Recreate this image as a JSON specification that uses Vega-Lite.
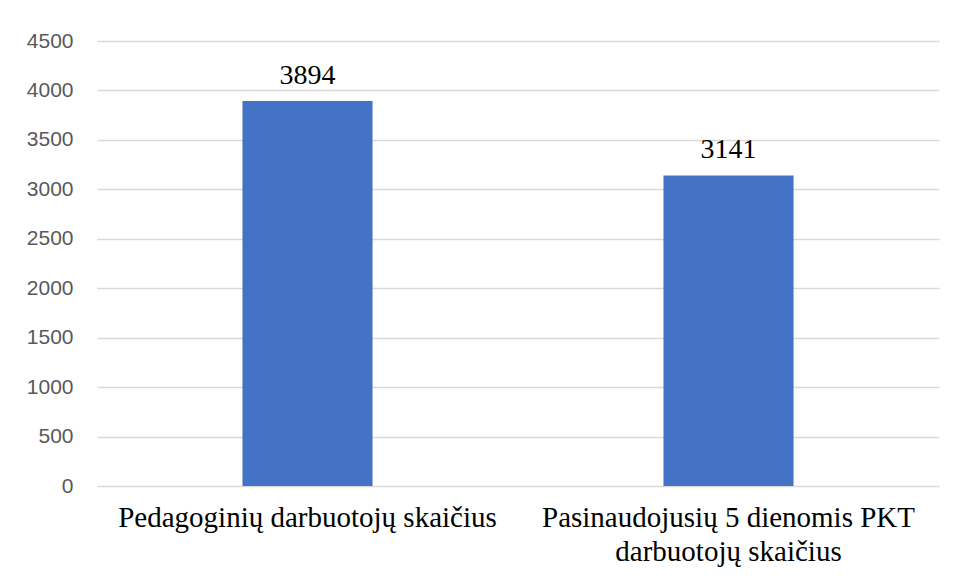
{
  "$schema": "https://vega.github.io/schema/vega-lite/v6.json",
  "autosize": "none",
  "width": 842,
  "height": 445,
  "padding": {"left": 97, "top": 41, "right": 17, "bottom": 94},
  "background": "white",
  "config": {"view": {"stroke": null}},
  "data": {"values": [
    {"category": "Pedagoginių darbuotojų skaičius", "value": 3894},
    {"category": "Pasinaudojusių 5 dienomis PKT darbuotojų skaičius", "value": 3141}
  ]},
  "encoding": {
    "x": {"field": "category", "type": "nominal", "sort": null,
      "scale": {"paddingInner": 0, "paddingOuter": 0},
      "axis": {"title": null, "domain": false, "ticks": false, "labelAngle": 0, "labelLimit": 0,
        "labelFont": "Liberation Serif", "labelFontSize": 29, "labelColor": "#000000",
        "labelPadding": 17, "labelLineHeight": 34, "labelBaseline": "top",
        "labelExpr": "datum.label == 'Pasinaudojusių 5 dienomis PKT darbuotojų skaičius' ? ['Pasinaudojusių 5 dienomis PKT', 'darbuotojų skaičius'] : datum.label"}},
    "y": {"field": "value", "type": "quantitative",
      "scale": {"domain": [0, 4500], "nice": false},
      "axis": {"title": null, "domain": false, "ticks": false, "format": "d",
        "values": [0, 500, 1000, 1500, 2000, 2500, 3000, 3500, 4000, 4500],
        "labelFont": "Liberation Sans", "labelFontSize": 21, "labelColor": "#595959",
        "labelPadding": 24, "gridColor": "#d9d9d9", "gridWidth": 1.5}}
  },
  "layer": [
    {"mark": {"type": "bar", "color": "#4472C4", "width": {"band": 0.309}}},
    {"mark": {"type": "text", "font": "Liberation Serif", "fontSize": 28, "color": "#000000", "baseline": "alphabetic", "dy": -17},
      "encoding": {"text": {"field": "value", "type": "quantitative", "format": "d"}}}
  ]
}
